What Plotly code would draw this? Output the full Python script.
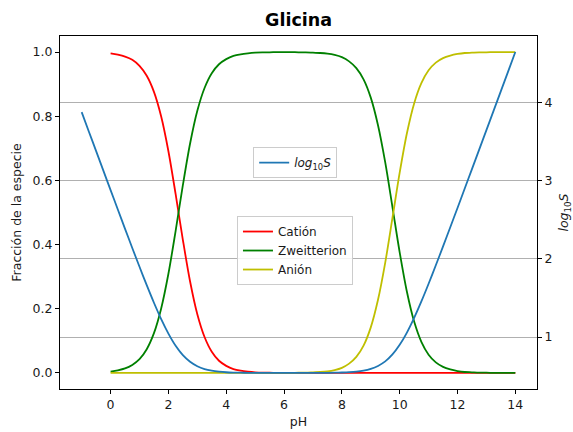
import plotly.graph_objects as go

# ---- data ----
ph_frac = [0, 0.25, 0.5, 0.75, 1, 1.25, 1.5, 1.75, 2, 2.25, 2.5, 2.75, 3, 3.25, 3.5, 3.75,
           4, 4.25, 4.5, 4.75, 5, 5.25, 5.5, 5.75, 6, 6.25, 6.5, 6.75, 7, 7.25, 7.5, 7.75,
           8, 8.25, 8.5, 8.75, 9, 9.25, 9.5, 9.75, 10, 10.25, 10.5, 10.75, 11, 11.25, 11.5, 11.75,
           12, 12.25, 12.5, 12.75, 13, 13.25, 13.5, 13.75, 14]

cation = [0.996, 0.992, 0.986, 0.976, 0.957, 0.926, 0.876, 0.799, 0.691, 0.557, 0.415, 0.285,
          0.183, 0.112, 0.066, 0.038, 0.022, 0.012, 0.007, 0.004, 0.002, 0.001, 0.001, 0.000,
          0.000, 0.000, 0.000, 0.000, 0.000, 0.000, 0.000, 0.000, 0.000, 0.000, 0.000, 0.000,
          0.000, 0.000, 0.000, 0.000, 0.000, 0.000, 0.000, 0.000, 0.000, 0.000, 0.000, 0.000,
          0.000, 0.000, 0.000, 0.000, 0.000, 0.000, 0.000, 0.000, 0.000]

zwitterion = [0.004, 0.008, 0.014, 0.025, 0.043, 0.074, 0.124, 0.201, 0.309, 0.443, 0.585, 0.715,
              0.817, 0.888, 0.934, 0.962, 0.978, 0.988, 0.993, 0.996, 0.998, 0.999, 0.999, 1.000,
              1.000, 1.000, 0.999, 0.999, 0.998, 0.997, 0.995, 0.991, 0.984, 0.971, 0.950, 0.915,
              0.858, 0.772, 0.656, 0.517, 0.376, 0.253, 0.160, 0.097, 0.057, 0.033, 0.019, 0.011,
              0.006, 0.003, 0.002, 0.001, 0.001, 0.000, 0.000, 0.000, 0.000]

anion = [0.000, 0.000, 0.000, 0.000, 0.000, 0.000, 0.000, 0.000, 0.000, 0.000, 0.000, 0.000,
         0.000, 0.000, 0.000, 0.000, 0.000, 0.000, 0.000, 0.000, 0.000, 0.000, 0.000, 0.000,
         0.000, 0.000, 0.001, 0.001, 0.002, 0.003, 0.005, 0.009, 0.016, 0.029, 0.050, 0.085,
         0.142, 0.228, 0.344, 0.483, 0.624, 0.747, 0.840, 0.903, 0.943, 0.967, 0.981, 0.989,
         0.994, 0.997, 0.998, 0.999, 0.999, 1.000, 1.000, 1.000, 1.000]

ph_sol = [-1, -0.75, -0.5, -0.25, 0, 0.25, 0.5, 0.75, 1, 1.25, 1.5, 1.75, 2, 2.25, 2.5, 2.75,
          3, 3.25, 3.5, 3.75, 4, 4.25, 4.5, 4.75, 5, 5.25, 5.5, 5.75, 6, 6.25, 6.5, 6.75,
          7, 7.25, 7.5, 7.75, 8, 8.25, 8.5, 8.75, 9, 9.25, 9.5, 9.75, 10, 10.25, 10.5, 10.75,
          11, 11.25, 11.5, 11.75, 12, 12.25, 12.5, 12.75, 13, 13.25, 13.5, 13.75, 14]

log_s = [3.880, 3.630, 3.381, 3.131, 2.882, 2.634, 2.386, 2.141, 1.900, 1.664, 1.439, 1.229,
         1.044, 0.888, 0.768, 0.683, 0.626, 0.590, 0.569, 0.557, 0.549, 0.545, 0.543, 0.542,
         0.541, 0.541, 0.540, 0.540, 0.540, 0.540, 0.540, 0.541, 0.541, 0.541, 0.542, 0.543,
         0.546, 0.550, 0.557, 0.570, 0.593, 0.630, 0.688, 0.777, 0.900, 1.057, 1.245, 1.456,
         1.683, 1.919, 2.161, 2.406, 2.653, 2.902, 3.151, 3.401, 3.650, 3.900, 4.150, 4.400,
         4.650]

assert len(ph_frac) == len(cation) == len(zwitterion) == len(anion)
assert len(ph_sol) == len(log_s)

x_ticks = [0, 2, 4, 6, 8, 10, 12, 14]
y_ticks = [0.0, 0.2, 0.4, 0.6, 0.8, 1.0]
y2_ticks = [1, 2, 3, 4]

FONT = "DejaVu Sans"
LW = 1.8
TXT = "#1a1a1a"

def line(color):
    return dict(color=color, width=LW, shape="spline", smoothing=0.9)

fig = go.Figure()
fig.add_trace(go.Scatter(x=ph_frac, y=cation, mode="lines", name="Catión",
                         line=line("#ff0000"), legend="legend2"))
fig.add_trace(go.Scatter(x=ph_frac, y=zwitterion, mode="lines", name="Zweitterion",
                         line=line("#008000"), legend="legend2"))
fig.add_trace(go.Scatter(x=ph_frac, y=anion, mode="lines", name="Anión",
                         line=line("#bfbf00"), legend="legend2"))
fig.add_trace(go.Scatter(x=ph_sol, y=log_s, mode="lines", name="<i>log</i><sub>10</sub><i>S</i>",
                         line=line("#1f77b4"), yaxis="y2", legend="legend"))

y2min, y2max = min(log_s), max(log_s)
pad2 = 0.05 * (y2max - y2min)

axis_common = dict(showline=True, linecolor="black", linewidth=1, ticks="outside",
                   ticklen=4, tickwidth=1, tickcolor="black", zeroline=False, automargin=False,
                   tickfont=dict(family=FONT, size=12.5, color=TXT))

legend_common = dict(bgcolor="rgba(255,255,255,0.85)", bordercolor="#cccccc", borderwidth=1,
                     font=dict(family=FONT, size=12, color=TXT),
                     xanchor="left", yanchor="top", xref="paper", yref="paper",
                     tracegroupgap=0)

fig.update_layout(
    width=573, height=432, autosize=False,
    margin=dict(l=60, r=36, t=36, b=43),
    plot_bgcolor="white", paper_bgcolor="white",
    title=dict(text="<b>Glicina</b>", x=0.521, xanchor="center", y=0.953, yanchor="middle",
               font=dict(family=FONT, size=17.5, color="black")),
    xaxis=dict(range=[-1.75, 14.75], tickvals=x_ticks, showgrid=False, mirror=True,
               title=dict(text="pH", font=dict(family=FONT, size=12.5, color=TXT), standoff=6),
               **axis_common),
    yaxis=dict(range=[-0.05, 1.05], tickvals=y_ticks, tickformat=".1f", showgrid=False, mirror=True,
               title=dict(text="Fracción de la especie", font=dict(family=FONT, size=12.5, color=TXT),
                          standoff=8),
               **axis_common),
    yaxis2=dict(overlaying="y", side="right", range=[y2min - pad2, y2max + pad2], tickvals=y2_ticks,
                showgrid=True, gridcolor="#b0b0b0", gridwidth=1,
                title=dict(text="<i>log</i><sub>10</sub><i>S</i>",
                           font=dict(family=FONT, size=12.5, color=TXT), standoff=10),
                **axis_common),
    legend=dict(x=0.405, y=0.685, **legend_common),
    legend2=dict(x=0.371, y=0.49, **legend_common),
    showlegend=True,
)

fig.write_html("out.html")
